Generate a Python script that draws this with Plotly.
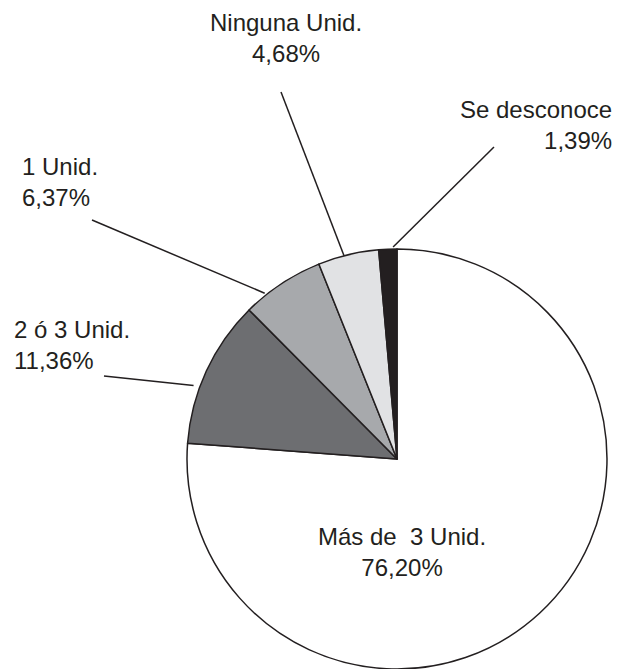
import math
import plotly.graph_objects as go

# ---- data ----
categories = ["Más de  3 Unid.", "2 ó 3 Unid.", "1 Unid.", "Ninguna Unid.", "Se desconoce"]
values = [76.20, 11.36, 6.37, 4.68, 1.39]
value_labels = ["76,20%", "11,36%", "6,37%", "4,68%", "1,39%"]

# ---- layout / style ----
W, H = 632, 669
CX, CY, R = 397, 459, 210
colors = ["#ffffff", "#6d6e71", "#a7a9ac", "#e1e2e4", "#231f20"]
ink = "#231f20"
FONT = "Liberation Sans"
FS = 24

# label placement (pixels): (x, y, xanchor, align)
label_pos = [
    (402, 552, "center", "center"),
    (12, 345, "left", "left"),
    (20, 182, "left", "left"),
    (286, 38, "center", "center"),
    (614, 125, "right", "right"),
]
# leader lines: outer end (pixels), anchor fraction within slice, radial factor
leader_outer = [None, (104, 376), (92, 220), (281, 92), (494, 147)]
leader_frac = [None, 0.38, 0.27, 0.43, 0.79]
leader_rad = [None, 1.03, 1.01, 1.0, 1.01]


def px(x):
    return x / W


def py(y):
    return 1 - y / H


fig = go.Figure(
    go.Pie(
        labels=categories,
        values=values,
        sort=False,
        direction="clockwise",
        rotation=0,
        marker=dict(colors=colors, line=dict(color=ink, width=1.5)),
        textinfo="none",
        hoverinfo="label+percent",
        domain=dict(x=[px(CX - R), px(CX + R)], y=[py(CY + R), py(CY - R)]),
        showlegend=False,
    )
)

total = sum(values)
cum = 0.0
shapes = []
annotations = []
for i, (cat, v, vl) in enumerate(zip(categories, values, value_labels)):
    start = cum / total * 360
    span = v / total * 360
    cum += v
    lx, ly, xa, al = label_pos[i]
    annotations.append(
        dict(
            x=px(lx), y=py(ly), xref="paper", yref="paper",
            text=f"{cat}<br>{vl}", showarrow=False,
            xanchor=xa, yanchor="middle", align=al,
            font=dict(family=FONT, size=FS, color=ink),
        )
    )
    if leader_outer[i] is not None:
        th = math.radians(start + leader_frac[i] * span)
        rr = R * leader_rad[i]
        ex = CX + rr * math.sin(th)
        ey = CY - rr * math.cos(th)
        ox, oy = leader_outer[i]
        shapes.append(
            dict(type="line", xref="paper", yref="paper",
                 x0=px(ox), y0=py(oy), x1=px(ex), y1=py(ey),
                 line=dict(color=ink, width=1.5))
        )

fig.update_layout(
    width=W, height=H,
    margin=dict(l=0, r=0, t=0, b=0),
    paper_bgcolor="white",
    plot_bgcolor="white",
    shapes=shapes,
    annotations=annotations,
)

fig.write_html(
    "out.html",
    config={"displayModeBar": False},
    post_script="document.body.style.margin='0';document.body.style.overflow='hidden';",
)
